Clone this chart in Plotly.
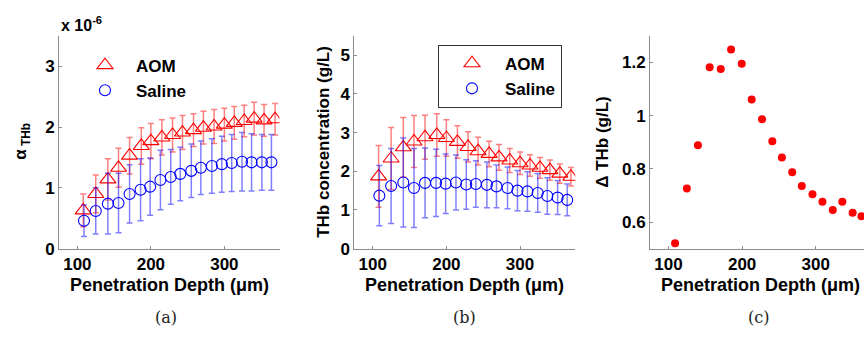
import plotly.graph_objects as go

# ---------------- data ----------------
depth_aom = [108, 125, 141.5, 156, 171, 187, 200, 215, 229.5, 243, 258, 271.5, 286, 300, 313.5, 327, 340.5, 354, 369]
depth_sal = [109, 125, 141.5, 156, 171, 186, 199, 213, 227, 240, 255, 268, 283, 296.5, 310, 324, 337, 351, 364]
depth_diff = [109, 125, 140, 156, 171, 185, 199.5, 213, 227, 241, 254, 268, 281, 295.5, 309, 323, 336, 350, 362]

alpha_aom = [0.63, 0.90, 1.14, 1.33, 1.53, 1.69, 1.77, 1.83, 1.87, 1.91, 1.95, 1.99, 2.01, 2.04, 2.07, 2.10, 2.14, 2.11, 2.13]
alpha_aom_err = [0.27, 0.31, 0.34, 0.32, 0.30, 0.30, 0.29, 0.29, 0.28, 0.28, 0.27, 0.27, 0.28, 0.27, 0.27, 0.26, 0.27, 0.26, 0.26]
alpha_sal = [0.46, 0.62, 0.74, 0.75, 0.90, 0.97, 1.02, 1.13, 1.18, 1.23, 1.28, 1.33, 1.36, 1.39, 1.41, 1.43, 1.42, 1.42, 1.42]
alpha_sal_err = [0.26, 0.38, 0.50, 0.49, 0.48, 0.51, 0.47, 0.49, 0.45, 0.44, 0.44, 0.44, 0.45, 0.46, 0.47, 0.48, 0.47, 0.46, 0.46]

thb_aom = [1.87, 2.33, 2.62, 2.77, 2.88, 2.94, 2.86, 2.76, 2.63, 2.52, 2.45, 2.36, 2.28, 2.21, 2.15, 2.09, 2.03, 1.94, 1.86]
thb_aom_err = [0.80, 0.80, 0.77, 0.67, 0.57, 0.55, 0.47, 0.42, 0.39, 0.36, 0.33, 0.33, 0.31, 0.29, 0.28, 0.27, 0.26, 0.25, 0.24]
thb_sal = [1.37, 1.62, 1.71, 1.57, 1.70, 1.70, 1.68, 1.71, 1.66, 1.67, 1.65, 1.61, 1.57, 1.50, 1.48, 1.44, 1.36, 1.32, 1.26]
thb_sal_err = [0.78, 0.97, 1.15, 1.02, 0.90, 0.87, 0.77, 0.71, 0.64, 0.60, 0.59, 0.55, 0.54, 0.52, 0.51, 0.50, 0.47, 0.44, 0.41]

delta_thb = [0.52, 0.726, 0.889, 1.182, 1.176, 1.249, 1.195, 1.061, 0.987, 0.904, 0.843, 0.787, 0.736, 0.705, 0.676, 0.645, 0.676, 0.635, 0.622]

x_ticks = [100, 200, 300]
ya_ticks = [0, 1, 2, 3]
yb_ticks = [0, 1, 2, 3, 4, 5]
yc_ticks = [0.6, 0.8, 1.0, 1.2]
yc_ticklabels = ["0.6", "0.8", "1", "1.2"]

RED = "#ff0000"
BLUE = "#0000ff"
RED_BAR = "rgba(255,0,0,0.5)"
BLUE_BAR = "rgba(0,0,255,0.5)"
FONT = "Liberation Sans, Arial, sans-serif"

W, H = 864, 348
def px(x):
    return x / W
def py(y):
    return 1 - y / H

fig = go.Figure()

def add_pair(xa, ya, ea, xs, ys, es, xaxis, yaxis, legend):
    fig.add_trace(go.Scatter(
        x=xa, y=ya, mode="markers", name="AOM", legend=legend,
        xaxis=xaxis, yaxis=yaxis,
        marker=dict(symbol="triangle-up-open", size=14, color=RED, line=dict(width=1.1, color=RED)),
        error_y=dict(type="data", array=ea, visible=True, color=RED_BAR, thickness=1.5, width=3),
    ))
    fig.add_trace(go.Scatter(
        x=xs, y=ys, mode="markers", name="Saline", legend=legend,
        xaxis=xaxis, yaxis=yaxis,
        marker=dict(symbol="circle-open", size=11, color=BLUE, line=dict(width=1.1, color=BLUE)),
        error_y=dict(type="data", array=es, visible=True, color=BLUE_BAR, thickness=1.5, width=3),
    ))

add_pair(depth_aom, alpha_aom, alpha_aom_err, depth_sal, alpha_sal, alpha_sal_err, "x", "y", "legend")
add_pair(depth_aom, thb_aom, thb_aom_err, depth_sal, thb_sal, thb_sal_err, "x2", "y2", "legend2")

fig.add_trace(go.Scatter(
    x=depth_diff, y=delta_thb, mode="markers", showlegend=False,
    xaxis="x3", yaxis="y3", cliponaxis=False,
    marker=dict(symbol="circle", size=8, color=RED),
))

tickfont = dict(family=FONT, size=17, color="black", weight="bold")
axcommon = dict(showgrid=False, zeroline=False, showline=True, linecolor="#8c8c8c", linewidth=1,
                ticks="inside", ticklen=3, tickcolor="#8c8c8c", tickfont=tickfont, mirror=False)

ydom = [py(256), py(37)]
fig.update_layout(
    width=W, height=H, margin=dict(l=0, r=0, t=0, b=0),
    paper_bgcolor="white", plot_bgcolor="white",
    xaxis=dict(domain=[px(59), px(279.5)], range=[75, 375], tickvals=x_ticks, anchor="y", **axcommon),
    yaxis=dict(domain=ydom, range=[0, 3.5], tickvals=ya_ticks, anchor="x", **axcommon),
    xaxis2=dict(domain=[px(354.3), px(575.3)], range=[75, 375], tickvals=x_ticks, anchor="y2", **axcommon),
    yaxis2=dict(domain=ydom, range=[0, 5.5], tickvals=yb_ticks, anchor="x2", **axcommon),
    xaxis3=dict(domain=[px(650), 1.0], range=[75, 365.4], tickvals=x_ticks, anchor="y3", **axcommon),
    yaxis3=dict(domain=ydom, range=[0.5, 1.3], tickvals=yc_ticks, ticktext=yc_ticklabels, anchor="x3", **axcommon),
    legend=dict(x=px(74), y=py(49), xanchor="left", yanchor="top", bgcolor="rgba(0,0,0,0)",
                borderwidth=0, itemwidth=52, font=dict(family=FONT, size=17, color="black", weight="bold"),
                tracegroupgap=0),
    legend2=dict(x=px(438), y=py(46), xanchor="left", yanchor="top", bgcolor="white",
                 bordercolor="#333333", borderwidth=1, itemwidth=56,
                 font=dict(family=FONT, size=17, color="black", weight="bold")),
    showlegend=True,
)

labfont = dict(family=FONT, size=18, color="black", weight="bold")
ylabfont = dict(family=FONT, size=17, color="black", weight="bold")
ann = []
for cx in [169.3, 464.8, 760.5]:
    ann.append(dict(x=px(cx), y=py(293), xref="paper", yref="paper", text="Penetration Depth (\u03bcm)",
                    showarrow=False, font=labfont, xanchor="center", yanchor="middle"))
ann.append(dict(x=px(22), y=py(146), xref="paper", yref="paper", text="\u03b1<sub> THb</sub>",
                showarrow=False, font=ylabfont, textangle=-90, xanchor="center", yanchor="middle"))
ann.append(dict(x=px(324), y=py(146), xref="paper", yref="paper", text="THb concentration (g/L)",
                showarrow=False, font=ylabfont, textangle=-90, xanchor="center", yanchor="middle"))
ann.append(dict(x=px(603), y=py(146), xref="paper", yref="paper", text="\u0394 THb (g/L)",
                showarrow=False, font=ylabfont, textangle=-90, xanchor="center", yanchor="middle"))
ann.append(dict(x=px(59), y=py(25), xref="paper", yref="paper", text="x 10<sup>-6</sup>",
                showarrow=False, font=dict(family=FONT, size=16, color="black", weight="bold"),
                xanchor="left", yanchor="middle"))
capfont = dict(family="DejaVu Serif, Liberation Serif, serif", size=16, color="#222222")
for cx, t in [(166, "(a)"), (464, "(b)"), (758, "(c)")]:
    ann.append(dict(x=px(cx), y=py(327), xref="paper", yref="paper", text=t,
                    showarrow=False, font=capfont, xanchor="center", yanchor="middle"))
fig.update_layout(annotations=ann)

fig.write_html("out.html", config={"displayModeBar": False},
               post_script="document.body.style.margin='0';document.body.style.overflow='hidden';window.dispatchEvent(new Event('resize'));")
